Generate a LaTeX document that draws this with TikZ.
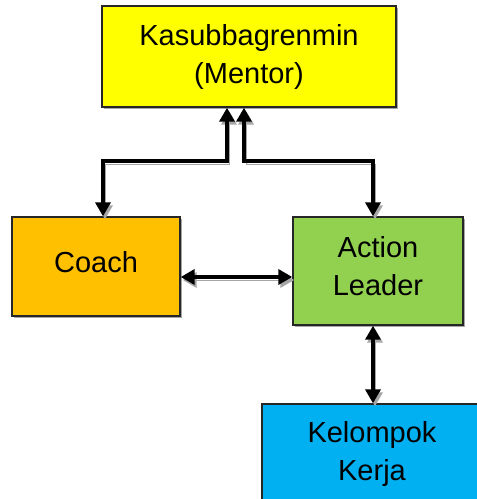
\documentclass[tikz,border=0pt]{standalone}
\usepackage{fontspec}
\setmainfont{Liberation Sans}
\usetikzlibrary{arrows.meta,calc}
\begin{document}
\begin{tikzpicture}[x=1pt,y=-1pt,
  box/.style={draw=black!85,line width=1.4pt,inner sep=0pt,align=center,
    font=\fontsize{29}{38}\selectfont,
    preaction={fill=black!35,transform canvas={xshift=1.5pt,yshift=-1.5pt}}},
  txt/.style={inner sep=0pt,align=center,font=\fontsize{29}{38}\selectfont},
  arr/.style={line width=4.8pt,black,{Triangle[width=15pt,length=14pt]}-{Triangle[width=15pt,length=14pt]},
    preaction={draw=black!35,transform canvas={xshift=2pt,yshift=-3pt}}}
]
\useasboundingbox (0,0) rectangle (477,499);
\node[box,fill={rgb,255:red,255;green,255;blue,0},minimum width=294pt,minimum height=101pt] (top) at (249,56.5) {Kasubbagrenmin\\(Mentor)};
\node[box,fill={rgb,255:red,255;green,192;blue,0},minimum width=168pt,minimum height=99pt] (coach) at (96,266.5) {};
\node[txt] (coacht) at (96,262.5) {Coach};
\node[box,fill={rgb,255:red,146;green,208;blue,80},minimum width=170pt,minimum height=108pt] (act) at (378,271) {};
\node[txt] (actt) at (378,266) {Action\\Leader};
\node[box,fill={rgb,255:red,0;green,176;blue,240},minimum width=220pt,minimum height=100pt] (kel) at (372,454) {Kelompok\\Kerja};
\coordinate (l1) at (227,161);
\coordinate (l2) at (103,161);
\coordinate (r1) at (244,161);
\coordinate (r2) at (373,161);
\draw[arr] (top.south -| l1) -- (l1) -- (l2) -- (coach.north -| l2);
\draw[arr] (top.south -| r1) -- (r1) -- (r2) -- (act.north -| r2);
\draw[arr] (coach.east |- 0,277) -- (act.west |- 0,277);
\draw[arr] (act.south -| r2) -- (kel.north -| r2);
\end{tikzpicture}
\end{document}
